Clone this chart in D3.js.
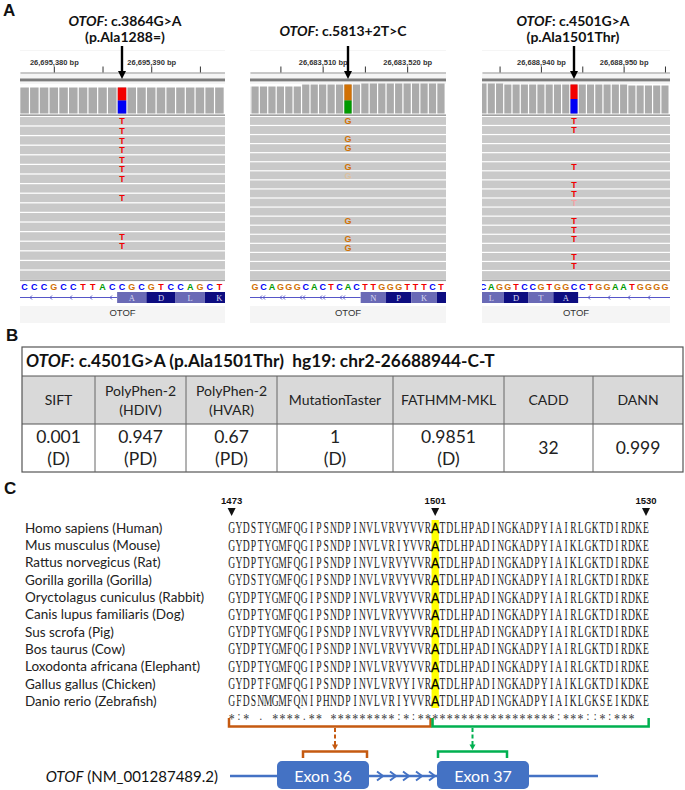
<!DOCTYPE html>
<html>
<head>
<meta charset="utf-8">
<script src="https://cdn.jsdelivr.net/npm/d3@7/dist/d3.min.js"></script>
<style>
  body { margin: 0; background: #fff; }
  svg { display: block; }
</style>
</head>
<body>
<div id="figure"></div>
<script>
// ---------- Panel A: IGV read pileups ----------
var igvGenes = ["OTOF", "OTOF", "OTOF"];
var igvChanges = [": c.3864G>A", ": c.5813+2T>C", ": c.4501G>A"];
var igvProteins = ["(p.Ala1288=)", "", "(p.Ala1501Thr)"];
var igvVariantPos = [26695387, 26683513, 26688944];
var igvRefSeq = ["CCCGCCTTACCGCGTCCAGCT", "GGCAGGGCACTCACTTGGGTTTCT", "CAGGTCCGTGGCCTGGAATGGGG"];
var igvSeqVariantIndex = [10, 12, 11];
var igvAltBase = ["T", "G", "T"];
var igvAltFraction = [0.5, 0.55, 0.5];
var igvReadRows = [17, 18, 18];
var igvAltRows = [[0, 1, 2, 3, 4, 5, 6, 8, 12, 13], [0, 2, 3, 5, 6, 11, 13, 14], [0, 1, 5, 7, 8, 9, 11, 12, 13, 15, 16]];
var igvFaintRows = [[], [6], [9]];
var igvCoverage = [
  [26, 26, 26, 26, 26, 26, 26, 26, 26, 26, 26, 26, 26, 26, 26, 26, 26, 26, 26, 26, 26],
  [27, 27, 27, 27, 27, 27, 27, 29, 29, 29, 29, 29, 29, 29, 30, 30, 30, 30, 30, 30, 30, 30, 30, 30],
  [30, 30, 30, 29, 29, 29, 29, 29, 29, 29, 29, 29, 29, 29, 29, 29, 29, 29, 28, 28, 28, 28, 28]
];
var igvAminoAcids = [["A", "D", "L", "K"], ["N", "P", "K", "E"], ["L", "D", "T", "A"]];
var igvAminoStart = [0, 2, -11];

// ---------- Panel B: in-silico predictions ----------
var tableGene = "OTOF";
var tableVariant = ": c.4501G>A (p.Ala1501Thr)  hg19: chr2-26688944-C-T";
var predictorNames = [["SIFT"], ["PolyPhen-2", "(HDIV)"], ["PolyPhen-2", "(HVAR)"], ["MutationTaster"], ["FATHMM-MKL"], ["CADD"], ["DANN"]];
var predictorScores = ["0.001", "0.947", "0.67", "1", "0.9851", "32", "0.999"];
var predictorCalls = ["(D)", "(PD)", "(PD)", "(D)", "(D)", "", ""];

// ---------- Panel C: conservation ----------
var alignStart = 1473, alignEnd = 1530, variantResidue = 1501;
var residueMarks = [1473, 1501, 1530];
var speciesNames = ["Homo sapiens (Human)", "Mus musculus (Mouse)", "Rattus norvegicus (Rat)", "Gorilla gorilla (Gorilla)",
  "Oryctolagus cuniculus (Rabbit)", "Canis lupus familiaris (Dog)", "Sus scrofa (Pig)", "Bos taurus (Cow)",
  "Loxodonta africana (Elephant)", "Gallus gallus (Chicken)", "Danio rerio (Zebrafish)"];
var proteinSeqs = [
  "GYDSTYGMFQGIPSNDPINVLVRVYVVRATDLHPADINGKADPYIAIRLGKTDIRDKE",
  "GYDPTYGMFQGIPSNDPINVLVRIYVVRATDLHPADINGKADPYIAIKLGKTDIRDKE",
  "GYDPTYGMFQGIPSNDPINVLVRVYVVRATDLHPADINGKADPYIAIKLGKTDIRDKE",
  "GYDSTYGMFQGIPSNDPINVLVRVYVVRATDLHPADINGKADPYIAIRLGKTDIRDKE",
  "GYDPTYGMFQGIPSNDPINVLVRVYVVRATDLHPADINGKADPYIAIRLGKTDIRDKE",
  "GYDPTYGMFQGIPSNDPINVLVRVYVVRATDLHPADINGKADPYIAIRLGKTDIRDKE",
  "GYDPTYGMFQGIPSNDPINVLVRVYVVRATDLHPADINGKADPYIAIRLGKTDIRDKE",
  "GYDPTYGMFQGIPSNDPINVLVRVYVVRATDLHPADINGKADPYIAIRLGKTDIRDKE",
  "GYDPTYGMFQGIPSNDPINVLVRVYVVRATDLHPADINGKADPYIAIRLGKTDIRDKE",
  "GYDPTFGMFQGIPSNDPINVLVRVYIVRATDLHPADINGKADPYIAIKLGKTDIKDKE",
  "GFDSNMGMFQNIPHNDPINVLVRIYVVRATDLHPADINGKADPYIAIKLGKSEIKDKE"
];
var conservation = "*:* . ****.** *********:*:*******************:***::*:***";
var transcriptName = "NM_001287489.2";
var exonNames = ["Exon 36", "Exon 37"];

// ---------- drawing ----------
var W = 685, H = 790;
var svg = d3.select("#figure").append("svg").attr("width", W).attr("height", H);

var sans = "Lato, 'Open Sans', sans-serif";
var arial = "'Liberation Sans', Arial, sans-serif";
var serif = "'Liberation Serif', 'Times New Roman', serif";

var baseColor = {A: "#009a00", C: "#0000f5", G: "#d17105", T: "#f20000"};
var faintColor = {G: "#dcc1a0", T: "#f2a3a3"};

function panelLabel(t, x, y) {
  svg.append("text").attr("x", x).attr("y", y).text(t)
    .attr("font-family", arial).attr("font-weight", "bold").attr("font-size", 17).attr("fill", "#111");
}
panelLabel("A", 3, 16);
panelLabel("B", 6, 341);
panelLabel("C", 4, 494);

// layout of the three IGV windows
var igvBox = [
  {x0: 20, x1: 225, vx: 122, step: 9.74, titleX: 125, twoLine: true, dbl: false},
  {x0: 250, x1: 446, vx: 348, step: 8.45, titleX: 343, twoLine: false, dbl: true},
  {x0: 482, x1: 670, vx: 574, step: 8.27, titleX: 573, twoLine: true, dbl: false}
];

igvBox.forEach(function(b, i) {
  var vpos = igvVariantPos[i];
  var x = d3.scaleLinear().domain([vpos, vpos + 1]).range([b.vx, b.vx + b.step]);
  var wdt = b.x1 - b.x0;
  var clipId = "igvclip" + i;
  svg.append("clipPath").attr("id", clipId)
    .append("rect").attr("x", b.x0).attr("y", 40).attr("width", wdt).attr("height", 290);
  var g = svg.append("g").attr("clip-path", "url(#" + clipId + ")");

  g.append("rect").attr("x", b.x0).attr("y", 50).attr("width", wdt).attr("height", 273).attr("fill", "#f5f5f5");
  g.append("rect").attr("x", b.x0).attr("y", 51).attr("width", wdt).attr("height", 21).attr("fill", "#fff");
  g.append("rect").attr("x", b.x0).attr("y", 84).attr("width", wdt).attr("height", 222).attr("fill", "#fff");

  // ruler
  var axisX = x.copy().domain([x.invert(b.x0), x.invert(b.x1)]).range([b.x0, b.x1]);
  var ticks = d3.range(Math.ceil(x.invert(b.x0) / 5) * 5, x.invert(b.x1), 5);
  g.append("g").attr("transform", "translate(0,72.5)")
    .call(d3.axisTop(axisX).tickValues(ticks).tickSize(6).tickSizeOuter(0).tickPadding(2)
      .tickFormat(function(d) { return d % 10 === 0 ? d3.format(",")(d) + " bp" : ""; }))
    .call(function(a) {
      a.select(".domain").attr("stroke", "#9a9a9a");
      a.selectAll(".tick line").attr("stroke", "#333");
      a.selectAll(".tick text").attr("font-family", arial).attr("font-size", 7.5)
        .attr("font-weight", "bold").attr("fill", "#333");
    });
  g.append("rect").attr("x", b.x0).attr("y", 78.5).attr("width", wdt).attr("height", 2.5).attr("fill", "#7c7c7c");
  g.append("rect").attr("x", b.x0).attr("y", 81).attr("width", wdt).attr("height", 1).attr("fill", "#c8c8c8");

  // coverage track
  var seq = igvRefSeq[i].split("");
  var startPos = vpos - igvSeqVariantIndex[i];
  var yc = d3.scaleLinear().domain([0, 30]).range([113.5, 83.5]);
  g.selectAll(".cov").data(igvCoverage[i]).join("rect")
    .attr("x", function(d, k) { return x(startPos + k) - b.step / 2 + 0.6; })
    .attr("width", b.step - 1.2)
    .attr("y", function(d) { return yc(d); })
    .attr("height", function(d) { return yc(0) - yc(d); })
    .attr("fill", "#ababab");
  var vd = igvCoverage[i][igvSeqVariantIndex[i]];
  var vAlt = vd * igvAltFraction[i];
  g.append("rect").attr("x", x(vpos) - b.step / 2 + 0.6).attr("width", b.step - 1.2)
    .attr("y", yc(vd)).attr("height", yc(vd - vAlt) - yc(vd))
    .attr("fill", baseColor[igvAltBase[i]]);
  g.append("rect").attr("x", x(vpos) - b.step / 2 + 0.6).attr("width", b.step - 1.2)
    .attr("y", yc(vd - vAlt)).attr("height", yc(0) - yc(vd - vAlt))
    .attr("fill", baseColor[seq[igvSeqVariantIndex[i]]]);
  g.append("rect").attr("x", b.x0).attr("y", 114.5).attr("width", wdt).attr("height", 1.3).attr("fill", "#8a8a8a");

  // reads
  var yr = d3.scaleBand().domain(d3.range(igvReadRows[i])).range([117, 279]).paddingInner(0.13);
  g.selectAll(".read").data(yr.domain()).join("rect")
    .attr("x", b.x0).attr("width", wdt)
    .attr("y", function(r) { return yr(r); }).attr("height", yr.bandwidth())
    .attr("fill", "#c9c9c9");
  g.selectAll(".mm").data(igvAltRows[i]).join("text")
    .attr("x", x(vpos)).attr("y", function(r) { return yr(r) + yr.bandwidth() / 2 + 3.3; })
    .attr("text-anchor", "middle").attr("font-family", arial).attr("font-weight", "bold").attr("font-size", 9)
    .attr("fill", function(r) {
      return igvFaintRows[i].indexOf(r) >= 0 ? faintColor[igvAltBase[i]] : baseColor[igvAltBase[i]];
    })
    .text(igvAltBase[i]);
  g.append("rect").attr("x", b.x0).attr("y", 279.5).attr("width", wdt).attr("height", 1.6).attr("fill", "#9a9a9a");

  // reference sequence
  g.selectAll(".base").data(seq).join("text")
    .attr("x", function(d, k) { return x(startPos + k); }).attr("y", 289.5)
    .attr("text-anchor", "middle").attr("font-family", arial).attr("font-weight", "bold").attr("font-size", 9)
    .attr("fill", function(d) { return baseColor[d]; })
    .text(function(d) { return d; });

  // gene track
  var aa = igvAminoAcids[i];
  var aStart = vpos + igvAminoStart[i];
  var exL = x(aStart) - b.step / 2, exR = x(aStart + 3 * aa.length) - b.step / 2;
  var intron = exL > b.x0 + 5 ? [b.x0, exL] : [exR, b.x1];
  g.append("line").attr("x1", intron[0]).attr("x2", intron[1]).attr("y1", 297.5).attr("y2", 297.5)
    .attr("stroke", "#5656c8").attr("stroke-width", 1);
  var chev = d3.range(intron[0] + 10, intron[1] - 4, 20);
  g.selectAll(".chev").data(chev).join("path")
    .attr("d", function(c) {
      var p = "M" + (c + 2) + ",295.5L" + c + ",297.5L" + (c + 2) + ",299.5";
      if (b.dbl) p += "M" + (c + 5) + ",295.5L" + (c + 3) + ",297.5L" + (c + 5) + ",299.5";
      return p;
    })
    .attr("fill", "none").attr("stroke", "#5656c8").attr("stroke-width", 1);
  g.selectAll(".aa").data(aa).join("rect")
    .attr("x", function(d, k) { return x(aStart + 3 * k) - b.step / 2; })
    .attr("width", 3 * b.step).attr("y", 292).attr("height", 11)
    .attr("fill", function(d, k) { return k % 2 ? "#0d0d80" : "#6a6ab6"; });
  g.selectAll(".aat").data(aa).join("text")
    .attr("x", function(d, k) { return x(aStart + 3 * k + 1); }).attr("y", 300.8)
    .attr("text-anchor", "middle").attr("font-family", serif).attr("font-size", 8.5)
    .attr("fill", "#d8d8f0").text(function(d) { return d; });
  g.append("text").attr("x", (b.x0 + b.x1) / 2).attr("y", 316).attr("text-anchor", "middle")
    .attr("font-family", arial).attr("font-size", 9.5).attr("fill", "#333").text(igvGenes[i]);

  // title and arrow
  var t1 = svg.append("text").attr("x", b.titleX).attr("y", b.twoLine ? 26 : 36).attr("text-anchor", "middle")
    .attr("font-family", sans).attr("font-weight", "bold").attr("font-size", 14).attr("fill", "#111");
  t1.append("tspan").attr("font-style", "italic").text(igvGenes[i]);
  t1.append("tspan").text(igvChanges[i]);
  if (b.twoLine) {
    svg.append("text").attr("x", b.titleX).attr("y", 42).attr("text-anchor", "middle")
      .attr("font-family", sans).attr("font-weight", "bold").attr("font-size", 14).attr("fill", "#111")
      .text(igvProteins[i]);
  }
  svg.append("line").attr("x1", b.vx).attr("x2", b.vx).attr("y1", 46).attr("y2", 72)
    .attr("stroke", "#000").attr("stroke-width", 2.4);
  svg.append("path").attr("d", "M" + (b.vx - 4) + ",71L" + (b.vx + 4) + ",71L" + b.vx + ",79Z").attr("fill", "#000");
});

// ---------- Panel B table ----------
var colEdges = [22, 95, 186, 277, 393, 504, 593, 683];
var tTop = 347, tTitle = 376, tHead = 424, tBot = 472;
var tb = svg.append("g");
tb.append("rect").attr("x", colEdges[0]).attr("y", tTitle).attr("width", colEdges[7] - colEdges[0])
  .attr("height", tHead - tTitle).attr("fill", "#d9d9d9");
tb.append("rect").attr("x", colEdges[0]).attr("y", tTop).attr("width", colEdges[7] - colEdges[0])
  .attr("height", tBot - tTop).attr("fill", "none").attr("stroke", "#555").attr("stroke-width", 1.2);
[tTitle, tHead].forEach(function(y) {
  tb.append("line").attr("x1", colEdges[0]).attr("x2", colEdges[7]).attr("y1", y).attr("y2", y)
    .attr("stroke", "#555").attr("stroke-width", 1);
});
tb.selectAll(".vl").data(colEdges.slice(1, 7)).join("line")
  .attr("x1", function(d) { return d; }).attr("x2", function(d) { return d; })
  .attr("y1", tTitle).attr("y2", tBot).attr("stroke", "#666").attr("stroke-width", 1);
var tt = tb.append("text").attr("x", 26).attr("y", 367).attr("font-family", sans).attr("font-weight", "bold")
  .attr("font-size", 17.3).attr("fill", "#111").style("white-space", "pre");
tt.append("tspan").attr("font-style", "italic").text(tableGene);
tt.append("tspan").text(tableVariant);

predictorNames.forEach(function(lines, k) {
  var cx = (colEdges[k] + colEdges[k + 1]) / 2;
  var hy = lines.length === 1 ? [405] : [396, 415];
  lines.forEach(function(l, j) {
    tb.append("text").attr("x", cx).attr("y", hy[j]).attr("text-anchor", "middle")
      .attr("font-family", sans).attr("font-size", 14).attr("fill", "#222").text(l);
  });
  var vals = predictorCalls[k] ? [predictorScores[k], predictorCalls[k]] : [predictorScores[k]];
  var vy = vals.length === 1 ? [454] : [443, 465];
  vals.forEach(function(v, j) {
    tb.append("text").attr("x", cx).attr("y", vy[j]).attr("text-anchor", "middle")
      .attr("font-family", sans).attr("font-size", 17.5).attr("fill", "#222").text(v);
  });
});

// ---------- Panel C alignment ----------
var residues = d3.range(alignStart, alignEnd + 1);
var xc = d3.scaleBand().domain(residues).range([228, 228 + residues.length * 7.27]);
var yrow = d3.scalePoint().domain(speciesNames).range([528, 701]);
var bw = xc.bandwidth();

svg.append("rect").attr("x", xc(variantResidue)).attr("y", 520).attr("width", bw).attr("height", 188).attr("fill", "#ffff00");

svg.selectAll(".sp").data(speciesNames).join("text")
  .attr("x", 25).attr("y", function(d) { return yrow(d) + 4.8; })
  .attr("font-family", sans).attr("font-size", 13.5).attr("fill", "#222").text(function(d) { return d; });

proteinSeqs.forEach(function(s, r) {
  var y = yrow(speciesNames[r]) + 5.3;
  svg.append("g").selectAll("text").data(s.split("")).join("text")
    .attr("transform", function(d, k) {
      return "translate(" + (xc(residues[k]) + bw / 2) + "," + y + ") scale(" + (residues[k] === variantResidue ? 0.9 : 0.6) + ",1)";
    })
    .attr("text-anchor", "middle")
    .attr("font-family", function(d, k) { return residues[k] === variantResidue ? arial : serif; })
    .attr("font-size", function(d, k) { return residues[k] === variantResidue ? 14 : 16; })
    .attr("fill", function(d, k) { return residues[k] === variantResidue ? "#000" : "#1e1e1e"; })
    .attr("stroke", function(d, k) { return residues[k] === variantResidue ? "#000" : "none"; })
    .attr("stroke-width", 0.3)
    .text(function(d) { return d; });
});

svg.append("g").selectAll("text").data(conservation.split("")).join("text")
  .attr("transform", function(d, k) {
    return "translate(" + (xc(residues[k]) + bw / 2) + "," + (d === "*" ? 724 : 720) + ") scale(0.85,1)";
  })
  .attr("text-anchor", "middle").attr("font-family", serif)
  .attr("font-size", function(d) { return d === "*" ? 14 : 12; }).attr("fill", "#333")
  .text(function(d) { return d; });

// residue markers
svg.selectAll(".rm").data(residueMarks).join("text")
  .attr("x", function(d) { return xc(d) + bw / 2; }).attr("y", 504).attr("text-anchor", "middle")
  .attr("font-family", arial).attr("font-weight", "bold").attr("font-size", 9.5).attr("fill", "#111")
  .text(function(d) { return d; });
svg.selectAll(".rt").data(residueMarks).join("path")
  .attr("d", function(d) {
    var cx = xc(d) + bw / 2;
    return "M" + (cx - 4) + ",508L" + (cx + 4) + ",508L" + cx + ",516Z";
  })
  .attr("fill", "#111");

// exon brackets
var orange = "#c55a11", green = "#00b050", blue = "#4472c4";
var bracketSpans = [[alignStart, variantResidue - 1, orange], [variantResidue, alignEnd, green]];
bracketSpans.forEach(function(s) {
  var a = xc(s[0]) + 1, z = xc(s[1]) + bw - 1;
  svg.append("path").attr("d", "M" + a + ",718V726.5H" + z + "V718")
    .attr("fill", "none").attr("stroke", s[2]).attr("stroke-width", 2.5);
});

// transcript diagram
var exonBox = [[277, 369], [437, 529]];
var exonTop = 761, exonH = 28, lineY = 776;
var smallBr = [[303, 367, orange], [438, 507, green]];
smallBr.forEach(function(s) {
  var cx = (s[0] + s[1]) / 2;
  svg.append("path").attr("d", "M" + s[0] + ",758V751.5H" + s[1] + "V758")
    .attr("fill", "none").attr("stroke", s[2]).attr("stroke-width", 2.5);
  svg.append("line").attr("x1", cx).attr("x2", cx).attr("y1", 728).attr("y2", 745)
    .attr("stroke", s[2]).attr("stroke-width", 2).attr("stroke-dasharray", "4,2.5");
  svg.append("path").attr("d", "M" + (cx - 3) + ",744.5L" + (cx + 3) + ",744.5L" + cx + ",750Z").attr("fill", s[2]);
});
svg.append("line").attr("x1", 230).attr("x2", 598).attr("y1", lineY).attr("y2", lineY)
  .attr("stroke", blue).attr("stroke-width", 2.5);
svg.selectAll(".ec").data(d3.range(383, 436, 13)).join("path")
  .attr("d", function(c) { return "M" + (c - 6) + "," + (lineY - 4.5) + "L" + c + "," + lineY + "L" + (c - 6) + "," + (lineY + 4.5); })
  .attr("fill", "none").attr("stroke", blue).attr("stroke-width", 2);
exonBox.forEach(function(e, k) {
  svg.append("rect").attr("x", e[0]).attr("y", exonTop).attr("width", e[1] - e[0]).attr("height", exonH)
    .attr("rx", 5).attr("fill", blue);
  svg.append("text").attr("x", (e[0] + e[1]) / 2).attr("y", lineY + 5.5).attr("text-anchor", "middle")
    .attr("font-family", sans).attr("font-size", 16).attr("fill", "#fff").text(exonNames[k]);
});
var tn = svg.append("text").attr("x", 218).attr("y", lineY + 5.5).attr("text-anchor", "end")
  .attr("font-family", sans).attr("font-size", 15).attr("fill", "#111");
tn.append("tspan").attr("font-style", "italic").text(igvGenes[0]);
tn.append("tspan").text(" (" + transcriptName + ")");
</script>
</body>
</html>
